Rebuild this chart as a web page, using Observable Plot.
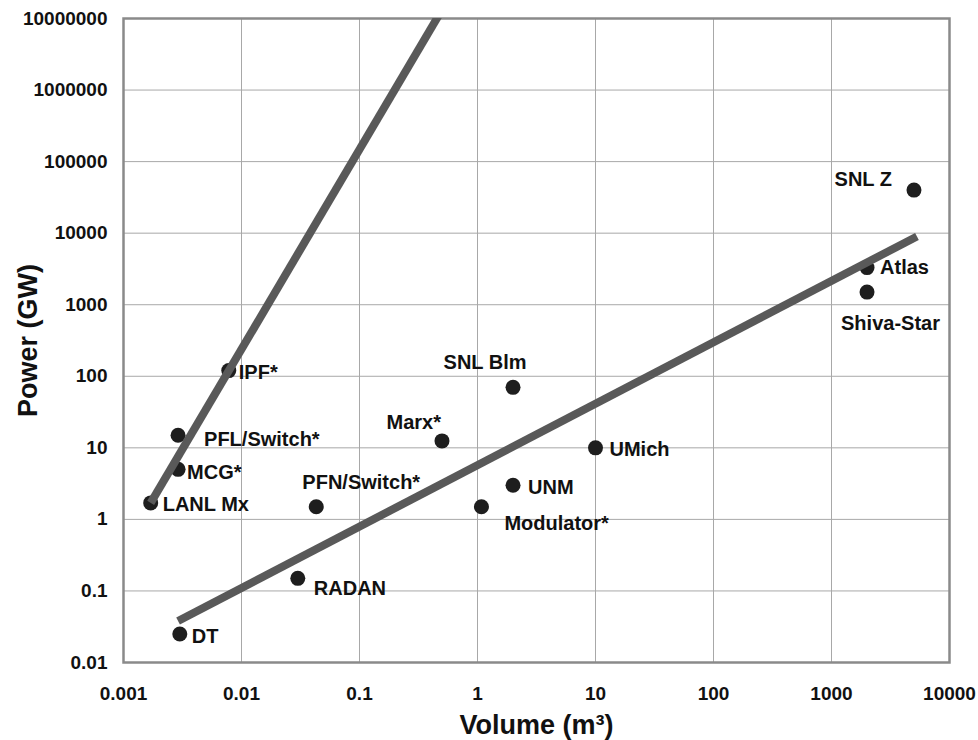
<!DOCTYPE html>
<html>
<head>
<meta charset="utf-8">
<script src="https://cdn.jsdelivr.net/npm/d3@7"></script>
<script src="https://cdn.jsdelivr.net/npm/@observablehq/plot@0.6"></script>
<style>
  html, body { margin: 0; padding: 0; background: #fff; }
  #chart { width: 978px; height: 740px; }
</style>
</head>
<body>
<div id="chart"></div>
<script>
// ---- data ----
const names  = ["LANL Mx", "MCG*", "PFL/Switch*", "IPF*", "DT", "RADAN", "PFN/Switch*", "Marx*", "SNL Blm", "UNM", "Modulator*", "UMich", "SNL Z", "Atlas", "Shiva-Star"];
const volume = [0.0017, 0.0029, 0.0029, 0.0078, 0.003, 0.03, 0.043, 0.5, 2, 2, 1.08, 10, 5000, 2000, 2000];
const power  = [1.7, 5, 15, 120, 0.025, 0.15, 1.5, 12.5, 70, 3, 1.5, 10, 40000, 3300, 1500];

// trend lines (end points)
const steepVolume   = [0.0017, 0.6];
const steepPower    = [1.7, 2.2e7];
const shallowVolume = [0.0029, 5300];
const shallowPower  = [0.038, 9000];

// ticks
const xTicks = [0.001, 0.01, 0.1, 1, 10, 100, 1000, 10000];
const yTicks = [0.01, 0.1, 1, 10, 100, 1000, 10000, 100000, 1000000, 10000000];

// ---- label placement (layout, pixels) ----
const labelLayout = {
  "LANL Mx":     {dx: 12,  dy: 2,   anchor: "start"},
  "MCG*":        {dx: 9,   dy: 3,   anchor: "start"},
  "PFL/Switch*": {dx: 26,  dy: 4,   anchor: "start"},
  "IPF*":        {dx: 10,  dy: 2,   anchor: "start"},
  "DT":          {dx: 12,  dy: 3,   anchor: "start"},
  "RADAN":       {dx: 16,  dy: 10,  anchor: "start"},
  "PFN/Switch*": {dx: 45,  dy: -24, anchor: "middle"},
  "Marx*":       {dx: -1,  dy: -18, anchor: "end"},
  "SNL Blm":     {dx: -28, dy: -25, anchor: "middle"},
  "UNM":         {dx: 15,  dy: 2,   anchor: "start"},
  "Modulator*":  {dx: 23,  dy: 17,  anchor: "start"},
  "UMich":       {dx: 14,  dy: 2,   anchor: "start"},
  "SNL Z":       {dx: -22, dy: -10, anchor: "end"},
  "Atlas":       {dx: 13,  dy: 0,   anchor: "start"},
  "Shiva-Star":  {dx: -26, dy: 31,  anchor: "start"}
};

const FONT = "'Liberation Sans', Arial, Helvetica, sans-serif";
const idx = names.map((_, i) => i);
const steep = steepVolume.map((v, i) => ({v, p: steepPower[i]}));
const shallow = shallowVolume.map((v, i) => ({v, p: shallowPower[i]}));

const labelMarks = idx.map(i => {
  const L = labelLayout[names[i]];
  return Plot.text([i], {
    x: j => volume[j], y: j => power[j], text: j => names[j],
    dx: L.dx, dy: L.dy, textAnchor: L.anchor,
    fontSize: 20, fontWeight: "bold", fill: "#111"
  });
});

const chart = Plot.plot({
  width: 978,
  height: 740,
  marginLeft: 123,
  marginRight: 29,
  marginTop: 18,
  marginBottom: 78,
  style: {fontFamily: FONT, fontWeight: "bold", background: "#fff", color: "#111"},
  x: {type: "log", domain: [0.001, 10000]},
  y: {type: "log", domain: [0.01, 10000000]},
  marks: [
    Plot.gridX(xTicks, {stroke: "#a8a8a8", strokeOpacity: 1, strokeWidth: 1}),
    Plot.gridY(yTicks, {stroke: "#a8a8a8", strokeOpacity: 1, strokeWidth: 1}),
    Plot.frame({stroke: "#8a8a8a", strokeWidth: 2.5}),
    Plot.axisX(xTicks, {tickSize: 0, tickPadding: 24, tickFormat: d => String(d), fontSize: 19, fontWeight: "bold", label: null, fill: "#111"}),
    Plot.axisY(yTicks, {tickSize: 0, tickPadding: 16, tickFormat: d => String(d), fontSize: 19, fontWeight: "bold", label: null, fill: "#111"}),
    Plot.dot(idx, {x: i => volume[i], y: i => power[i], r: 7.5, fill: "#1e1e1e", stroke: "none"}),
    Plot.line(steep, {x: "v", y: "p", stroke: "#595959", strokeWidth: 8, strokeLinecap: "butt", clip: true}),
    Plot.line(shallow, {x: "v", y: "p", stroke: "#595959", strokeWidth: 8, strokeLinecap: "butt"}),
    ...labelMarks,
    Plot.text(["Power (GW)"], {frameAnchor: "left", dx: -95, rotate: -90, textAnchor: "middle", lineAnchor: "middle", text: d => d, fontSize: 27, fontWeight: "bold", fill: "#111"}),
    Plot.text(["Volume (m³)"], {frameAnchor: "bottom", dy: 63, textAnchor: "middle", lineAnchor: "middle", text: d => d, fontSize: 27, fontWeight: "bold", fill: "#111"})
  ]
});
document.getElementById("chart").appendChild(chart);
</script>
</body>
</html>
